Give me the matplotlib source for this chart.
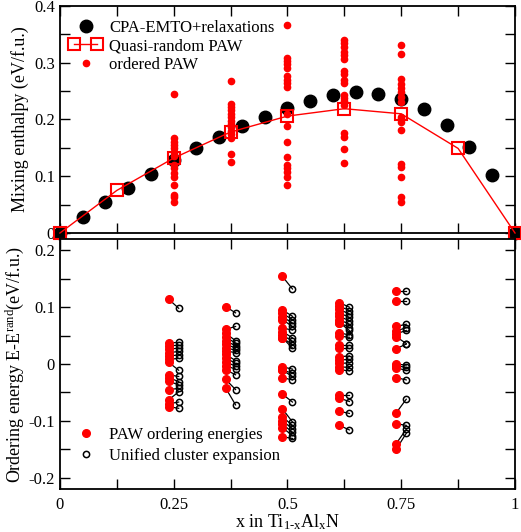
import numpy as np
import matplotlib
matplotlib.use("Agg")
import matplotlib.pyplot as plt
from matplotlib.legend_handler import HandlerLine2D

plt.rcParams['font.family'] = ['Liberation Serif', 'DejaVu Serif']
plt.rcParams['mathtext.fontset'] = 'custom'
plt.rcParams['mathtext.rm'] = 'Liberation Serif'
plt.rcParams['mathtext.it'] = 'Liberation Serif:italic'

# --- top panel: mixing enthalpy ---
cpa_x = [0, 0.05, 0.1, 0.15, 0.2, 0.25, 0.3, 0.35, 0.4, 0.45, 0.5,
         0.55, 0.6, 0.65, 0.7, 0.75, 0.8, 0.85, 0.9, 0.95, 1.0]
cpa_h = [0, 0.029, 0.055, 0.079, 0.104, 0.129, 0.150, 0.170, 0.189, 0.205, 0.221,
         0.233, 0.244, 0.249, 0.245, 0.236, 0.219, 0.190, 0.151, 0.102, 0]

qr_x = [0, 0.125, 0.25, 0.375, 0.5, 0.625, 0.75, 0.875, 1.0]
qr_h = [0, 0.075, 0.132, 0.178, 0.206, 0.219, 0.210, 0.149, 0]

ord_x = [0.25, 0.375, 0.5, 0.625, 0.75]
ord_h = [
    [0.245, 0.167, 0.161, 0.155, 0.149, 0.143, 0.135, 0.120, 0.114, 0.106,
     0.099, 0.085, 0.067, 0.063, 0.054],
    [0.268, 0.228, 0.222, 0.216, 0.210, 0.204, 0.198, 0.192, 0.186, 0.180,
     0.174, 0.168, 0.140, 0.125],
    [0.367, 0.309, 0.303, 0.297, 0.291, 0.276, 0.270, 0.264, 0.258, 0.210,
     0.189, 0.160, 0.134, 0.120, 0.114, 0.108, 0.098, 0.085],
    [0.340, 0.334, 0.328, 0.319, 0.313, 0.307, 0.286, 0.281, 0.270, 0.264,
     0.243, 0.238, 0.232, 0.226, 0.176, 0.170, 0.148, 0.123],
    [0.332, 0.315, 0.271, 0.262, 0.255, 0.248, 0.240, 0.231, 0.205, 0.200,
     0.195, 0.181, 0.122, 0.117, 0.098, 0.064, 0.054],
]

# --- bottom panel: ordering energies (PAW vs cluster expansion) ---
paw_e = [
    [0.114, 0.037, 0.032, 0.026, 0.020, 0.014, 0.008, 0.003, -0.019, -0.024,
     -0.030, -0.045, -0.063, -0.070, -0.075],
    [0.101, 0.061, 0.054, 0.047, 0.041, 0.035, 0.029, 0.023, 0.017, 0.011,
     0.004, -0.003, -0.010, -0.027, -0.042],
    [0.154, 0.095, 0.089, 0.083, 0.078, 0.063, 0.057, 0.051, 0.046, 0.046,
     -0.005, -0.011, -0.011, -0.024, -0.053, -0.079, -0.093, -0.100, -0.106,
     -0.112, -0.128],
    [0.108, 0.102, 0.096, 0.090, 0.084, 0.078, 0.073, 0.073, 0.055, 0.049,
     0.034, 0.029, 0.013, 0.007, 0.001, -0.005, -0.010, -0.055, -0.060,
     -0.083, -0.108],
    [0.128, 0.110, 0.066, 0.058, 0.053, 0.048, 0.027, 0.000, -0.003, -0.007,
     -0.024, -0.086, -0.105, -0.140, -0.150],
]
ce_e = [
    [0.098, 0.038, 0.033, 0.028, 0.022, 0.016, 0.010, -0.011, -0.022, -0.031,
     -0.037, -0.043, -0.049, -0.067, -0.078],
    [0.090, 0.066, 0.041, 0.037, 0.032, 0.028, 0.024, 0.020, 0.006, 0.001,
     -0.004, -0.009, -0.019, -0.045, -0.072],
    [0.132, 0.084, 0.078, 0.072, 0.066, 0.060, 0.046, 0.040, 0.034, 0.028,
     -0.009, -0.016, -0.022, -0.028, -0.067, -0.102, -0.108, -0.114, -0.120,
     -0.126, -0.131],
    [0.100, 0.094, 0.088, 0.082, 0.076, 0.070, 0.064, 0.059, 0.051, 0.047,
     0.034, 0.029, 0.014, 0.008, 0.002, -0.006, -0.012, -0.055, -0.066,
     -0.087, -0.116],
    [0.128, 0.110, 0.070, 0.064, 0.059, 0.036, 0.035, -0.002, -0.006, -0.011,
     -0.028, -0.062, -0.108, -0.115, -0.122],
]

fig = plt.figure(figsize=(5.21, 5.32), dpi=100)
ax1 = fig.add_axes([0.115, 0.562, 0.8735, 0.4268])
ax2 = fig.add_axes([0.115, 0.0808, 0.8735, 0.470])


def style_axes(ax):
    for s in ax.spines.values():
        s.set_linewidth(1.3)
    ax.tick_params(which='both', direction='in', top=True, right=True,
                   length=7, width=1.0, labelsize=12)


# top panel
ax1.plot(cpa_x, cpa_h, 'o', color='black', ms=9, zorder=2, clip_on=False,
         label='CPA-EMTO+relaxations')
ax1.plot(qr_x, qr_h, '-s', color='red', lw=1.0, ms=8, mfc='none', mew=1.5,
         zorder=3, clip_on=False, label='Quasi-random PAW')
for i, xc in enumerate(ord_x):
    ax1.plot([xc] * len(ord_h[i]), ord_h[i], 'o', color='red', ms=4.5,
             zorder=4, label='ordered PAW' if i == 0 else None)

ax1.set_xlim(0, 1)
ax1.set_ylim(0, 0.4)
ax1.set_xticks(np.arange(0, 1.001, 0.125))
ax1.set_xticklabels([])
ax1.set_yticks(np.arange(0, 0.401, 0.05))
ax1.set_yticklabels(['0', '', '0.1', '', '0.2', '', '0.3', '', '0.4'])
style_axes(ax1)
ax1.set_ylabel('Mixing enthalpy (eV/f.u.)', fontsize=13, labelpad=4)

h, l = ax1.get_legend_handles_labels()
ax1.legend(h, l, loc='upper left', bbox_to_anchor=(0.02, 0.94),
           frameon=False, fontsize=12, borderpad=0, borderaxespad=0,
           handlelength=2.0, handletextpad=0.4, labelspacing=0.15,
           handler_map={h[0]: HandlerLine2D(numpoints=1),
                        h[1]: HandlerLine2D(numpoints=2),
                        h[2]: HandlerLine2D(numpoints=1)})

# bottom panel
dx = 0.011
for i, xc in enumerate(ord_x):
    for p, c in zip(paw_e[i], ce_e[i]):
        ax2.plot([xc - dx, xc + dx], [p, c], '-', color='black', lw=0.9, zorder=2)
    ax2.plot([xc - dx] * len(paw_e[i]), paw_e[i], 'o', color='red', ms=5.5,
             zorder=3, label='PAW ordering energies' if i == 0 else None)
    ax2.plot([xc + dx] * len(ce_e[i]), ce_e[i], 'o', color='black', ms=4.5,
             mfc='none', mew=1.1, zorder=4,
             label='Unified cluster expansion' if i == 0 else None)

ax2.set_xlim(0, 1)
ax2.set_ylim(-0.22, 0.22)
ax2.set_xticks(np.arange(0, 1.001, 0.125))
ax2.set_xticklabels(['0', '', '0.25', '', '0.5', '', '0.75', '', '1'])
ax2.set_yticks(np.arange(-0.2, 0.201, 0.05))
ax2.set_yticklabels(['-0.2', '', '-0.1', '', '0', '', '0.1', '', '0.2'])
style_axes(ax2)
ax2.tick_params(axis='x', pad=6)
ax2.set_ylabel('Ordering energy E-E$^{\\rm rand}$(eV/f.u.)', fontsize=13,
               labelpad=2)
ax2.set_xlabel('x in Ti$_{\\text{1-x}}$Al$_{\\text{x}}$N', fontsize=13,
               labelpad=-1)
ax2.legend(loc='lower left', bbox_to_anchor=(0.02, 0.1), frameon=False,
           fontsize=12, borderpad=0, borderaxespad=0, handlelength=2.0,
           handletextpad=0.4, labelspacing=0.3, numpoints=1)

fig.savefig('out.png', dpi=100)
